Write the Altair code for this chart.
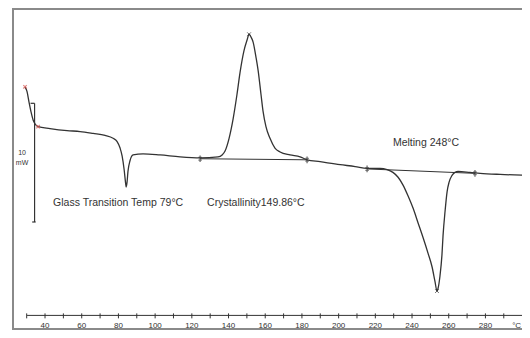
import altair as alt
import pandas as pd

# ---- DSC curve (temperature in °C, heat flow in mW, arbitrary offset) ----
temp_c = [29.1, 30.2, 31.3, 32.4, 33.5, 34.5, 36.2, 42.7, 52.0, 59.1, 66.2, 72.7, 77.1, 79.2,
          80.9, 82.0, 83.1, 83.9, 84.2, 84.7, 85.2, 86.3, 88.0, 93.4, 102.7, 113.6, 124.5,
          134.3, 136.5, 138.1, 140.3, 142.5, 144.6, 146.3, 148.4, 150.1, 151.2, 152.3, 153.4,
          155.0, 156.1, 157.7, 158.8, 160.4, 162.6, 165.3, 168.1, 173.5, 179.0, 182.8, 189.9,
          200.8, 209.0, 215.5, 222.6, 226.4, 229.6, 232.4, 235.1, 237.8, 240.6, 243.3, 246.0,
          248.7, 250.9, 252.5, 253.6, 254.2, 255.2, 256.3, 256.9, 258.0, 259.1, 260.2, 261.8,
          263.4, 265.1, 271.6, 277.1, 288.0, 304.3]
heat_flow_mw = [20.49, 20.08, 19.18, 18.36, 17.70, 17.38, 17.13, 16.97, 16.80, 16.72, 16.56,
                16.39, 16.15, 15.90, 15.33, 14.67, 13.52, 12.38, 12.05, 12.46, 13.36, 14.26,
                14.75, 14.84, 14.75, 14.59, 14.51, 14.59, 14.75, 15.08, 16.15, 17.79, 19.84,
                21.72, 23.52, 24.43, 24.92, 24.67, 24.26, 22.95, 21.89, 19.84, 18.44, 17.13,
                16.15, 15.33, 15.00, 14.75, 14.59, 14.34, 14.18, 13.93, 13.77, 13.61, 13.61,
                13.52, 13.28, 12.87, 12.21, 11.31, 10.25, 9.02, 7.79, 6.48, 5.33, 4.10, 3.28,
                3.52, 4.51, 6.31, 7.95, 10.00, 11.64, 12.46, 13.03, 13.28, 13.36, 13.28, 13.20,
                13.11, 13.03]

# integration baselines (start/end points)
base_seg = ["cryst", "cryst", "melt", "melt"]
base_t = [124.5, 182.8, 215.5, 274.3]
base_mw = [14.43, 14.34, 13.57, 13.20]

# peak markers
peak_t = [151.2, 253.6]
peak_mw = [24.92, 3.28]

# red start markers
red_t = [29.1, 36.2]
red_mw = [20.49, 17.13]

# annotations
ann_text = ["Glass Transition Temp 79°C", "Crystallinity149.86°C", "Melting 248°C"]
ann_t = [44.4, 128.3, 229.6]
ann_mw = [10.66, 10.66, 15.74]

# x axis (drawn inside the frame)
tick_label_values = [40, 60, 80, 100, 120, 140, 160, 180, 200, 220, 240, 260, 280]
tick_values = [30, 40, 50, 60, 70, 80, 90, 100, 110, 120, 130, 140, 150, 160, 170, 180,
               190, 200, 210, 220, 230, 240, 250, 260, 270, 280, 290]
axis_line_t = [30.2, 302.7]
axis_y_mw = 1.23
unit_t = 297.0

# 10 mW scale bar
bar_t = 34.3
bar_mw = [9.1, 19.1]
bar_label = ["10", "mW"]
bar_label_t = [27.5, 27.5]
bar_label_mw = [14.9, 14.05]

W, H = 510, 322
X_DOM = [22.0, 22.0 + W / 1.835]
Y_DOM = [0.0, 27.13]
xs = alt.Scale(domain=X_DOM, nice=False, zero=False)
ys = alt.Scale(domain=Y_DOM, nice=False, zero=False)
FONT = "Liberation Sans"
INK = "#333333"

def xy(ch):
    return ch.encode(x=alt.X("t:Q", scale=xs, axis=None), y=alt.Y("mw:Q", scale=ys, axis=None))

curve_df = pd.DataFrame({"t": temp_c, "mw": heat_flow_mw})
curve = xy(alt.Chart(curve_df).mark_line(color=INK, strokeWidth=1.3, interpolate="monotone"))

base_df = pd.DataFrame({"seg": base_seg, "t": base_t, "mw": base_mw})
baselines = xy(alt.Chart(base_df).mark_line(color=INK, strokeWidth=1)).encode(detail="seg:N")
base_marks = xy(alt.Chart(base_df).mark_point(
    shape="M0,-1V1M-0.5,-0.4H0.5M-0.5,0.4H0.5", size=45, color=INK, strokeWidth=1.3, filled=False))

peak_df = pd.DataFrame({"t": peak_t, "mw": peak_mw})
peaks = xy(alt.Chart(peak_df).mark_point(
    shape="M-1,-1L1,1M-1,1L1,-1", size=14, color=INK, strokeWidth=1, filled=False))

red_df = pd.DataFrame({"t": red_t, "mw": red_mw})
reds = xy(alt.Chart(red_df).mark_point(
    shape="M-1,-1L1,1M-1,1L1,-1", size=12, color="#d9534f", strokeWidth=1.2, filled=False))

ann_df = pd.DataFrame({"txt": ann_text, "t": ann_t, "mw": ann_mw})
anns = xy(alt.Chart(ann_df).mark_text(align="left", baseline="middle", font=FONT, fontSize=10.5,
                                      color=INK)).encode(text="txt:N")

axis_df = pd.DataFrame({"t": [axis_line_t[0]], "t2": [axis_line_t[1]], "mw": [axis_y_mw]})
axis_line = xy(alt.Chart(axis_df).mark_rule(color=INK, strokeWidth=1)).encode(x2="t2:Q")

ticks_df = pd.DataFrame({"t": tick_values, "y1": [axis_y_mw + 0.17] * len(tick_values),
                         "y2": [axis_y_mw - 0.25] * len(tick_values)})
ticks = alt.Chart(ticks_df).mark_rule(color=INK, strokeWidth=1).encode(
    x=alt.X("t:Q", scale=xs, axis=None), y=alt.Y("y1:Q", scale=ys, axis=None), y2="y2:Q")

labels_df = pd.DataFrame({"t": tick_label_values + [unit_t],
                          "txt": [str(v) for v in tick_label_values] + ["°C"],
                          "mw": [0.33] * (len(tick_label_values) + 1)})
tick_labels = xy(alt.Chart(labels_df).mark_text(align="center", baseline="middle", font=FONT,
                                                fontSize=8, color=INK)).encode(text="txt:N")

bar_df = pd.DataFrame({"t": [bar_t], "y1": [bar_mw[0]], "y2": [bar_mw[1]]})
bar = alt.Chart(bar_df).mark_rule(color=INK, strokeWidth=1.2).encode(
    x=alt.X("t:Q", scale=xs, axis=None), y=alt.Y("y1:Q", scale=ys, axis=None), y2="y2:Q")
cap_df = pd.DataFrame({"t": [32.1, 33.0], "t2": [bar_t, 34.9], "mw": [bar_mw[1], bar_mw[0]]})
caps = xy(alt.Chart(cap_df).mark_rule(color=INK, strokeWidth=1.2)).encode(x2="t2:Q")
bar_lab_df = pd.DataFrame({"txt": bar_label, "t": bar_label_t, "mw": bar_label_mw})
bar_labels = xy(alt.Chart(bar_lab_df).mark_text(align="center", baseline="middle", font=FONT,
                                                fontSize=7, color=INK)).encode(text="txt:N")

FRAME = "#8a8a8a"
frame_top = alt.Chart(curve_df).mark_rule(color=FRAME, strokeWidth=2).encode(
    x=alt.value(0), x2=alt.value(W), y=alt.value(1))
frame_left = alt.Chart(curve_df).mark_rule(color=FRAME, strokeWidth=2).encode(
    x=alt.value(1), y=alt.value(0), y2=alt.value(H))
frame_bottom = alt.Chart(curve_df).mark_rule(color=FRAME, strokeWidth=2).encode(
    x=alt.value(0), x2=alt.value(W), y=alt.value(H - 1))

chart = alt.layer(
    frame_top, frame_left, frame_bottom,
    axis_line, ticks, tick_labels,
    bar, caps, bar_labels,
    baselines, base_marks, curve, peaks, reds, anns,
).properties(
    width=W, height=H,
    padding={"left": 4, "top": 0, "right": 0, "bottom": 0},
    autosize=alt.AutoSizeParams(type="none"),
    background="white",
).configure_view(stroke=None)

chart.save("out.html", embed_options={"renderer": "svg", "actions": False})
